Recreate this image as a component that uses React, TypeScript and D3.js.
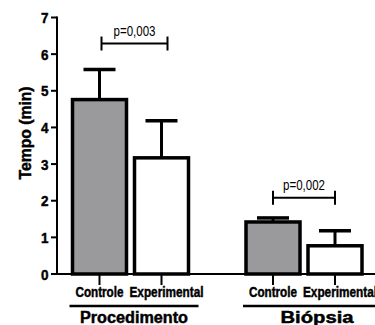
import React from "react";
import * as d3 from "d3";

const groups = ["Procedimento", "Biópsia"];
const conditions = ["Controle", "Experimental"];
const controleMeans = [4.76, 1.42];
const controleErrors = [0.82, 0.11];
const experimentalMeans = [3.17, 0.77];
const experimentalErrors = [1.01, 0.41];
const pValueLabels = ["p=0,003", "p=0,002"];
const bracketLevels = [6.29, 2.08];
const yTickValues = [0, 1, 2, 3, 4, 5, 6, 7];
const yLabel = "Tempo (min)";

const W = 375;
const H = 325;
const SANS = "'Liberation Sans', Arial, sans-serif";

export default function App() {
  const y = d3.scaleLinear().domain([0, 7]).range([274, 17.5]);
  const gx = d3.scalePoint<string>().domain(groups).range([130.5, 304]);
  const cx = d3.scalePoint<string>().domain(conditions).range([-31, 31]);
  const barW = 54;
  const capW = 32;
  const axisX = 57;
  const fills = ["#9a9a9c", "#ffffff"];
  const means = [controleMeans, experimentalMeans];
  const errs = [controleErrors, experimentalErrors];
  const condWidths = [48, 74];
  const groupWidths = [108, 73];
  const heavy = { stroke: "#000", strokeWidth: 0.45 };

  return (
    <svg width={W} height={H} style={{ position: "absolute", left: 0, top: 0, background: "#fff" }}>
      {/* y axis label */}
      <text
        transform={`translate(31, ${y(3.85)}) rotate(-90)`}
        textAnchor="middle"
        fontFamily={SANS}
        fontWeight="bold"
        fontSize={16}
        textLength={93}
        lengthAdjust="spacingAndGlyphs"
        {...heavy}
      >
        {yLabel}
      </text>
      {/* y axis */}
      <line x1={axisX} x2={axisX} y1={y(7) - 1} y2={y(0)} stroke="#000" strokeWidth={2} />
      {yTickValues.map((t) => (
        <g key={t}>
          <line x1={axisX - 6} x2={axisX} y1={y(t)} y2={y(t)} stroke="#000" strokeWidth={2} />
          <text
            x={axisX - 16}
            y={y(t)}
            dy="0.36em"
            fontFamily={SANS}
            fontWeight="bold"
            fontSize={15.5}
            textLength={7.5}
            lengthAdjust="spacingAndGlyphs"
            {...heavy}
          >
            {t}
          </text>
        </g>
      ))}
      {/* bars and error bars */}
      {groups.map((g, gi) =>
        conditions.map((c, ci) => {
          const xc = (gx(g) as number) + (cx(c) as number);
          const m = means[ci][gi];
          const top = m + errs[ci][gi];
          return (
            <g key={g + c}>
              <line x1={xc} x2={xc} y1={y(m)} y2={y(top)} stroke="#000" strokeWidth={3} />
              <line x1={xc - capW / 2} x2={xc + capW / 2} y1={y(top)} y2={y(top)} stroke="#000" strokeWidth={3.5} />
              <rect
                x={xc - barW / 2}
                y={y(m)}
                width={barW}
                height={y(0) - y(m)}
                fill={fills[ci]}
                stroke="#000"
                strokeWidth={3.5}
              />
            </g>
          );
        })
      )}
      {/* x axis */}
      <line x1={axisX} x2={W} y1={y(0)} y2={y(0)} stroke="#000" strokeWidth={2} />
      {groups.map((g, gi) =>
        conditions.map((c, ci) => {
          const xc = (gx(g) as number) + (cx(c) as number);
          const tx = xc + (ci === 1 ? 5 : 0) - condWidths[ci] / 2;
          return (
            <g key={"t" + g + c}>
              <line x1={xc} x2={xc} y1={y(0)} y2={y(0) + 11} stroke="#000" strokeWidth={2} />
              <text
                x={tx}
                y={297}
                fontFamily={SANS}
                fontWeight="bold"
                fontSize={14}
                textLength={condWidths[ci]}
                lengthAdjust="spacingAndGlyphs"
                {...heavy}
              >
                {c}
              </text>
            </g>
          );
        })
      )}
      {/* group lines and labels */}
      {groups.map((g, gi) => {
        const left = (gx(g) as number) + (cx(conditions[0]) as number) - barW / 2 - 3;
        const right = gi === groups.length - 1 ? W + 16 : (gx(g) as number) + (cx(conditions[1]) as number) + barW / 2 + 10;
        const mid = (left + right) / 2;
        return (
          <g key={"grp" + g}>
            <line x1={left} x2={right} y1={306} y2={306} stroke="#000" strokeWidth={2.5} />
            <text
              x={mid - groupWidths[gi] / 2}
              y={323}
              fontFamily={SANS}
              fontWeight="bold"
              fontSize={16}
              textLength={groupWidths[gi]}
              lengthAdjust="spacingAndGlyphs"
              {...heavy}
            >
              {g}
            </text>
          </g>
        );
      })}
      {/* significance brackets */}
      {groups.map((g, gi) => {
        const x1 = (gx(g) as number) + (cx(conditions[0]) as number) + (gi === 0 ? 2 : 0);
        const x2 = (gx(g) as number) + (cx(conditions[1]) as number) + (gi === 0 ? 6 : 0);
        const by = y(bracketLevels[gi]);
        return (
          <g key={"br" + g}>
            <line x1={x1} x2={x2} y1={by} y2={by} stroke="#000" strokeWidth={2} />
            <line x1={x1} x2={x1} y1={by - 7} y2={by + 7} stroke="#000" strokeWidth={2} />
            <line x1={x2} x2={x2} y1={by - 7} y2={by + 7} stroke="#000" strokeWidth={2} />
            <text
              x={(x1 + x2) / 2 - 21}
              y={by - 8}
              fontFamily={SANS}
              fontSize={14}
              textLength={42}
              lengthAdjust="spacingAndGlyphs"
            >
              {pValueLabels[gi]}
            </text>
          </g>
        );
      })}
    </svg>
  );
}
